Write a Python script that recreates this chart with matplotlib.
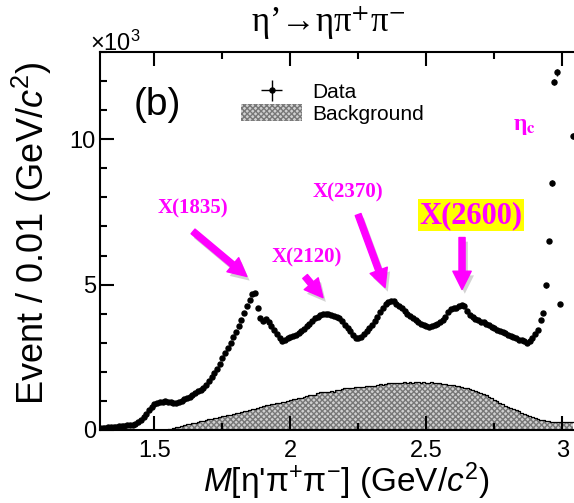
import numpy as np
import matplotlib
matplotlib.use("Agg")
import matplotlib.pyplot as plt
import matplotlib.patheffects as pe
from matplotlib.ticker import MultipleLocator, FuncFormatter

plt.rcParams['font.family'] = ['Liberation Sans', 'DejaVu Sans']
plt.rcParams['mathtext.fontset'] = 'custom'
plt.rcParams['mathtext.rm'] = 'Liberation Sans'
plt.rcParams['mathtext.it'] = 'Liberation Sans:italic'
plt.rcParams['mathtext.bf'] = 'Liberation Sans:bold'

# Data: events per 0.01 GeV bin, bin centres 1.30 ... 3.04
mass = np.round(np.arange(1.30, 3.045, 0.01), 2)
events = [
    60, 70, 80, 90, 100, 110, 120, 130, 140, 150,
    160, 160, 170, 200, 260, 350, 450, 560, 680, 790,
    880, 940, 970, 980, 990, 980, 960, 940, 930, 960,
    1000, 1050, 1100, 1150, 1210, 1270, 1330, 1390, 1460, 1560,
    1680, 1820, 1960, 2110, 2280, 2460, 2640, 2820, 3000, 3190,
    3380, 3580, 3800, 4020, 4250, 4480, 4680, 4720, 4200, 3850,
    3750, 3820, 3700, 3580, 3450, 3300, 3150, 3050, 3100, 3150,
    3200, 3230, 3280, 3340, 3400, 3480, 3560, 3650, 3750, 3850,
    3900, 3950, 3980, 4000, 3980, 3950, 3920, 3900, 3850, 3750,
    3620, 3500, 3400, 3280, 3180, 3150, 3200, 3300, 3400, 3500,
    3600, 3750, 3900, 4050, 4200, 4320, 4400, 4450, 4420, 4350,
    4280, 4200, 4100, 4000, 3920, 3850, 3780, 3700, 3650, 3600,
    3560, 3550, 3560, 3600, 3650, 3700, 3800, 3900, 4050, 4150,
    4180, 4200, 4250, 4300, 4250, 4100, 3950, 3880, 3820, 3780,
    3720, 3700, 3660, 3600, 3550, 3500, 3450, 3420, 3380, 3330,
    3280, 3230, 3200, 3150, 3100, 3080, 3050, 3000, 3050, 3150,
    3300, 3450, 3800, 4030, 4970, 6500, 8500, 11970, 12300, 4340,
    14500, 15000, 14000, 13500, 10100,
]

# Background histogram, bin centres 1.55 ... 3.04
bg_mass = np.round(np.arange(1.55, 3.045, 0.01), 2)
background = [
    20, 45, 70, 95, 120,
    150, 170, 190, 210, 235, 255, 280, 300, 320, 345,
    365, 385, 405, 425, 445, 465, 490, 520, 530, 555,
    575, 600, 620, 640, 665, 690, 715, 735, 760, 790,
    830, 860, 870, 885, 900, 915, 930, 950, 975, 1000,
    1030, 1055, 1075, 1100, 1110, 1130, 1160, 1190, 1200, 1220,
    1260, 1290, 1310, 1300, 1320, 1350, 1320, 1360, 1390, 1410,
    1430, 1450, 1440, 1460, 1470, 1480, 1475, 1490, 1510, 1520,
    1500, 1530, 1560, 1570, 1560, 1580, 1600, 1620, 1610, 1620,
    1630, 1620, 1640, 1630, 1640, 1620, 1640, 1650, 1630, 1640,
    1630, 1620, 1640, 1620, 1610, 1600, 1590, 1580, 1560, 1550,
    1540, 1520, 1500, 1480, 1460, 1430, 1400, 1370, 1340, 1310,
    1280, 1230, 1190, 1140, 1090, 1040, 990, 940, 890, 840,
    800, 760, 720, 680, 640, 600, 560, 520, 490, 450,
    420, 390, 360, 340, 320, 300, 290, 280, 275, 280,
    285, 280, 270, 265, 260,
]

# Resonance labels: text, text position, arrow tail, arrow head (data coords)
states = ["X(1835)", "X(2120)", "X(2370)"]
state_text_pos = [(1.64, 7620), (2.06, 5930), (2.21, 8170)]
state_arrows = [((1.642, 6830), (1.840, 5280)),
                ((2.054, 5280), (2.120, 4550)),
                ((2.249, 7410), (2.348, 4900))]

MAGENTA = '#ff00ff'

fig = plt.figure(figsize=(5.74, 5.03), dpi=100)
ax = fig.add_axes([100 / 574, 73 / 503, 476 / 574, 378 / 503])

# background
ax.fill_between(bg_mass, background, step='mid', facecolor='#d0d0d0',
                edgecolor='#777777', hatch='xxxxxx', linewidth=0,
                label='Background')
ax.step(bg_mass, background, where='mid', color='k', lw=0.9)

# data
ax.errorbar(mass, events, yerr=np.sqrt(events), xerr=0.005, fmt='o',
            color='k', ms=3.6, elinewidth=1, capsize=0, label='Data')

ax.set_xlim(1.3, 3.05)
ax.set_ylim(0, 13000)

for side in ['left', 'bottom', 'top']:
    ax.spines[side].set_linewidth(1.5)
ax.spines['right'].set_visible(False)

ax.xaxis.set_major_locator(MultipleLocator(0.5))
ax.xaxis.set_minor_locator(MultipleLocator(0.25))
ax.yaxis.set_major_locator(MultipleLocator(5000))
ax.yaxis.set_minor_locator(MultipleLocator(1000))
ax.xaxis.set_major_formatter(FuncFormatter(lambda v, _: f'{v:g}'))
ax.yaxis.set_major_formatter(FuncFormatter(lambda v, _: f'{v / 1000:g}'))
ax.tick_params(which='both', direction='in', top=True, right=False, width=1.5)
ax.tick_params(which='major', length=10, labelsize=17)
ax.tick_params(which='minor', length=5)
ax.tick_params(axis='x', pad=7)
ax.tick_params(axis='y', pad=3)

# legend
handles, labels = ax.get_legend_handles_labels()
order = [labels.index('Data'), labels.index('Background')]
ax.legend([handles[i] for i in order], [labels[i] for i in order],
          loc='upper left', bbox_to_anchor=(0.297, 0.92), frameon=False,
          fontsize=15, borderpad=0, borderaxespad=0, handlelength=2.9,
          handleheight=0.9, handletextpad=0.5, labelspacing=0.1)

# texts
fig.text(328 / 574, 1 - 23 / 503, r'η’→ηπ$^{+}$π$^{-}$',
         fontsize=25, family=['Liberation Serif', 'DejaVu Serif'],
         math_fontfamily='stix', ha='center', va='center')
fig.text(90 / 574, 1 - 43 / 503, r'×10$^{3}$', fontsize=17,
         ha='left', va='center')
fig.text(32 / 574, 1 - 233 / 503, r'Event / 0.01 (GeV/$c^{2}$)',
         fontsize=26, rotation=90, ha='center', va='center')
fig.text(346 / 574, 1 - 481 / 503, r"$M$[η'π$^{+}$π$^{-}$] (GeV/$c^{2}$)",
         fontsize=24, ha='center', va='center')
ax.text(0.12, 0.86, '(b)', transform=ax.transAxes, fontsize=28,
        ha='center', va='center')

shadow = [pe.SimplePatchShadow(offset=(2, -3), shadow_rgbFace='#808080',
                               alpha=0.35), pe.Normal()]
arrowstyle = 'simple,head_length=0.6,head_width=0.6,tail_width=0.2'

for name, pos, (tail, head) in zip(states, state_text_pos, state_arrows):
    ax.text(pos[0], pos[1], name, fontsize=15, family='Liberation Serif',
            weight='bold', color=MAGENTA, ha='center', va='center')
    ax.annotate('', xy=head, xytext=tail,
                arrowprops=dict(arrowstyle=arrowstyle, color=MAGENTA,
                                mutation_scale=22, shrinkA=0, shrinkB=0,
                                path_effects=shadow))

ax.text(2.664, 7380, 'X(2600)', fontsize=22, family='Liberation Serif',
        weight='bold', color=MAGENTA, ha='center', va='center',
        bbox=dict(boxstyle='square,pad=0.05', fc='yellow', ec='none'))
ax.annotate('', xy=(2.631, 4830), xytext=(2.631, 6620),
            arrowprops=dict(arrowstyle=arrowstyle, color=MAGENTA,
                            mutation_scale=22, shrinkA=0, shrinkB=0,
                            path_effects=shadow))
ax.text(2.862, 10450, r'η$_{\mathbf{c}}$', fontsize=17,
        family='Liberation Serif', weight='bold', color=MAGENTA,
        math_fontfamily='stix', ha='center', va='center')

fig.savefig('out.png', dpi=100)
